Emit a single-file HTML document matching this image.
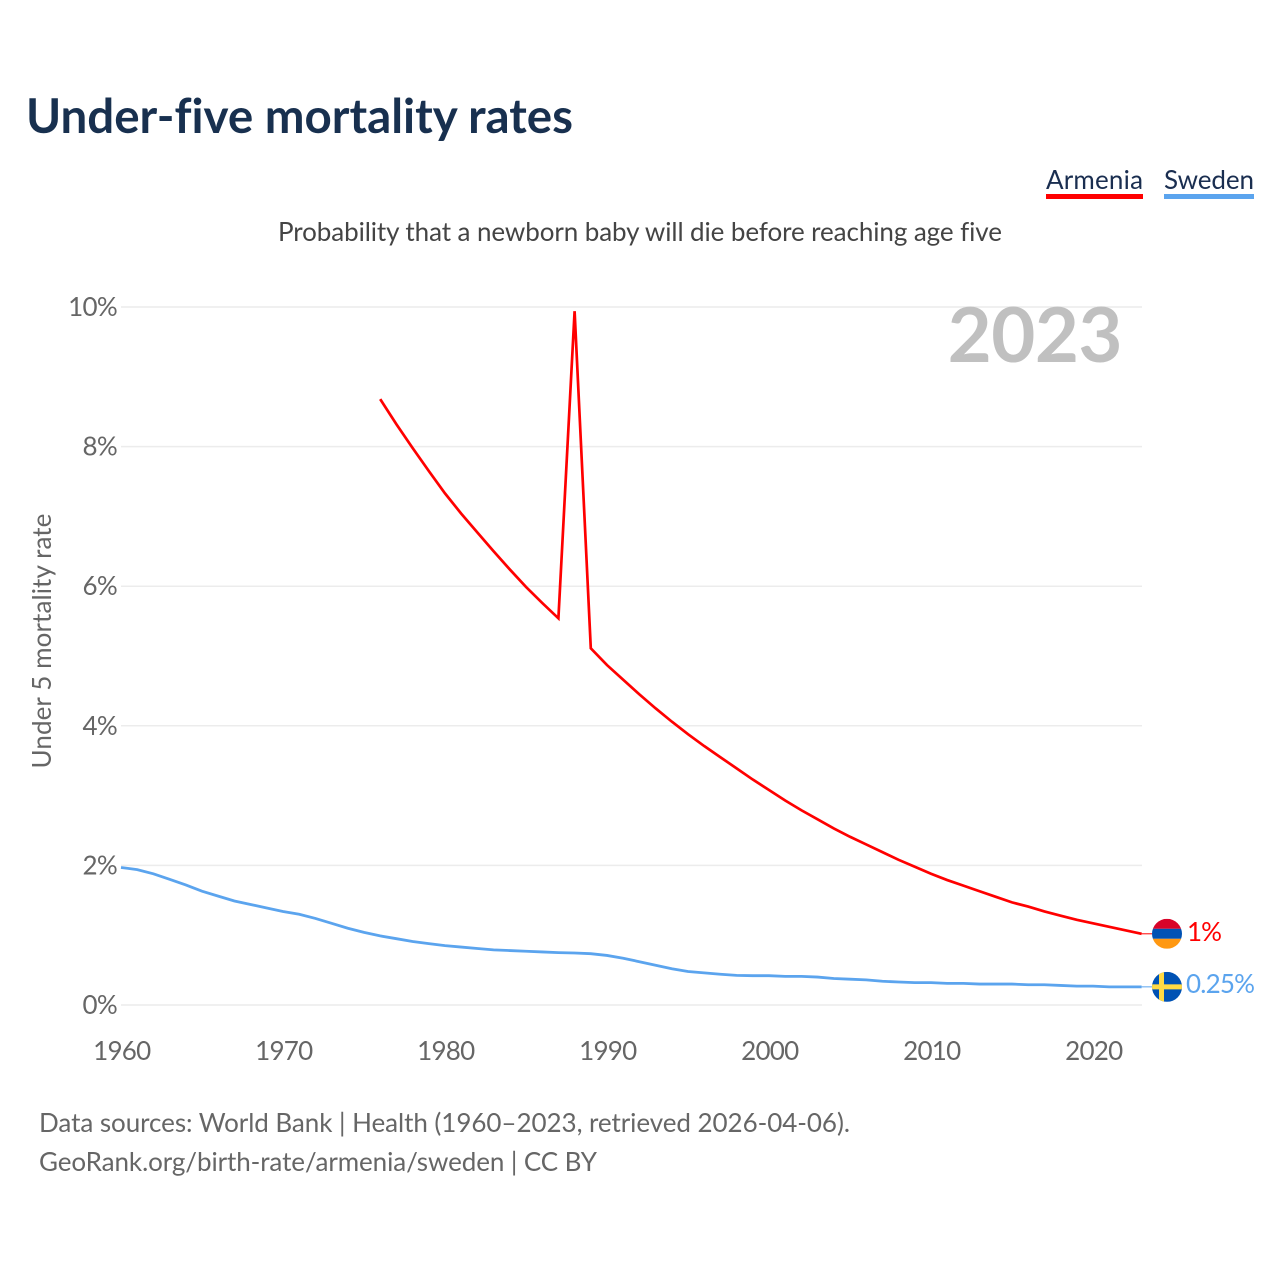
<!DOCTYPE html>
<html lang="en">
<head>
<meta charset="utf-8">
<title>Under-five mortality rates</title>
<style>
html,body{margin:0;padding:0;background:#fff;}
svg{display:block;}
text{font-family:"Lato","Carlito","Liberation Sans",sans-serif;font-variant-ligatures:none;}
</style>
</head>
<body>
<svg id="chart" xmlns="http://www.w3.org/2000/svg" width="1280" height="1280" viewBox="0 0 1280 1280">
  <defs>
    <clipPath id="flag-clip-am"><circle id="am-clip-circle" cx="1167" cy="934" r="15"/></clipPath>
    <clipPath id="flag-clip-se"><circle id="se-clip-circle" cx="1167" cy="987" r="15"/></clipPath>
  </defs>
  <rect width="1280" height="1280" fill="#fff"/>
  <text x="26" y="133" font-size="47.5" font-weight="700" fill="#18304f" textLength="547">Under-five mortality rates</text>
  <g>
    <text x="1046" y="189" font-size="26" fill="#1a2e50" textLength="97">Armenia</text>
    <rect x="1046" y="194" width="97" height="5" fill="#ff0000"/>
  </g>
  <g>
    <text x="1164" y="189" font-size="26" fill="#1a2e50" textLength="90">Sweden</text>
    <rect x="1164" y="194" width="90" height="5" fill="#5ba4ee"/>
  </g>
  <text x="278" y="241" font-size="26" fill="#444" textLength="724">Probability that a newborn baby will die before reaching age five</text>
  <g id="grid"></g>
  <g id="yticks"></g>
  <g id="xticks"></g>
  <text transform="translate(51,641) rotate(-90)" font-size="26" fill="#666" text-anchor="middle" letter-spacing="0.1">Under 5 mortality rate</text>
  <text x="1122" y="362" font-size="76" font-weight="700" fill="#c0c0c0" text-anchor="end" letter-spacing="-0.5">2023</text>
  <g id="series"></g>
  <g id="flags"></g>
  <text x="39" y="1132" font-size="26" fill="#666" textLength="811">Data sources: World Bank | Health (1960–2023, retrieved 2026-04-06).</text>
  <text x="39" y="1171" font-size="26" fill="#666" textLength="558">GeoRank.org/birth-rate/armenia/sweden | CC BY</text>
</svg>
<script>
const yTickValues = [0, 2, 4, 6, 8, 10];
const yTickLabels = ["0%", "2%", "4%", "6%", "8%", "10%"];
const xTickValues = [1960, 1970, 1980, 1990, 2000, 2010, 2020];
const armeniaYears = [1976,1977,1978,1979,1980,1981,1982,1983,1984,1985,1986,1987,1988,1989,1990,1991,1992,1993,1994,1995,1996,1997,1998,1999,2000,2001,2002,2003,2004,2005,2006,2007,2008,2009,2010,2011,2012,2013,2014,2015,2016,2017,2018,2019,2020,2021,2022,2023];
const armeniaValues = [8.68,8.32,7.98,7.65,7.33,7.04,6.77,6.50,6.24,5.99,5.76,5.54,9.94,5.11,4.87,4.66,4.45,4.25,4.06,3.88,3.71,3.55,3.39,3.23,3.08,2.93,2.79,2.66,2.53,2.41,2.30,2.19,2.08,1.98,1.88,1.79,1.71,1.63,1.55,1.47,1.41,1.34,1.28,1.22,1.17,1.12,1.07,1.02];
const swedenYears = [1960,1961,1962,1963,1964,1965,1966,1967,1968,1969,1970,1971,1972,1973,1974,1975,1976,1977,1978,1979,1980,1981,1982,1983,1984,1985,1986,1987,1988,1989,1990,1991,1992,1993,1994,1995,1996,1997,1998,1999,2000,2001,2002,2003,2004,2005,2006,2007,2008,2009,2010,2011,2012,2013,2014,2015,2016,2017,2018,2019,2020,2021,2022,2023];
const swedenValues = [1.97,1.94,1.88,1.80,1.72,1.63,1.56,1.49,1.44,1.39,1.34,1.30,1.24,1.17,1.10,1.04,0.99,0.95,0.91,0.88,0.85,0.83,0.81,0.79,0.78,0.77,0.76,0.75,0.745,0.735,0.71,0.67,0.62,0.57,0.52,0.48,0.46,0.44,0.425,0.42,0.42,0.41,0.41,0.40,0.38,0.37,0.36,0.34,0.33,0.32,0.32,0.31,0.31,0.30,0.30,0.30,0.29,0.29,0.28,0.27,0.27,0.26,0.26,0.26];
const armeniaEndLabel = "1%";
const swedenEndLabel = "0.25%";

const NS = "http://www.w3.org/2000/svg";
const xScale = function (year) { return 121 + (year - 1960) * 16.2; };
const yScale = function (value) { return 1005 - value * 69.8; };
const make = function (tag, parent, attrs, txt) {
  const el = document.createElementNS(NS, tag);
  Object.keys(attrs).forEach(function (k) { el.setAttribute(k, attrs[k]); });
  if (txt !== undefined) el.textContent = txt;
  parent.appendChild(el);
  return el;
};
const gridG = document.getElementById("grid");
const yG = document.getElementById("yticks");
const xG = document.getElementById("xticks");
const seriesG = document.getElementById("series");
const flagsG = document.getElementById("flags");

yTickValues.forEach(function (v, i) {
  const line = make("line", gridG, {x1: 121, x2: 1142, y1: yScale(v), y2: yScale(v), stroke: "#ececec", "stroke-width": 1.5});
  
  
  const t = make("text", yG, {x: 117, y: yScale(v) + 9, "text-anchor": "end", "font-size": 26, fill: "#666", "letter-spacing": -0.7}, yTickLabels[i]);
  
  
});
xTickValues.forEach(function (v) {
  const t = make("text", xG, {x: xScale(v) + 0.8, y: 1060, "text-anchor": "middle", "font-size": 26, fill: "#666", "letter-spacing": -0.75}, String(v));
  
  
});
const toPath = function (years, values) {
  return years.map(function (yr, i) {
    return (i ? "L" : "M") + xScale(yr).toFixed(2) + " " + yScale(values[i]).toFixed(2);
  }).join(" ");
};
const swedenLine = make("path", seriesG, {d: toPath(swedenYears, swedenValues), fill: "none", stroke: "#5ba4ee", "stroke-width": 2.8, "stroke-linejoin": "miter"});


const armeniaLine = make("path", seriesG, {d: toPath(armeniaYears, armeniaValues), fill: "none", stroke: "#ff0000", "stroke-width": 2.7, "stroke-linejoin": "miter"});



const amY = yScale(armeniaValues[armeniaValues.length - 1]);
const seY = yScale(swedenValues[swedenValues.length - 1]);
const endX = xScale(2023);
const amConn = make("line", flagsG, {x1: endX, x2: 1152, y1: amY, y2: amY, stroke: "#ff0000", "stroke-width": 1});


const seConn = make("line", flagsG, {x1: endX, x2: 1152, y1: seY, y2: seY, stroke: "#5ba4ee", "stroke-width": 1});



document.getElementById("am-clip-circle").setAttribute("cy", amY);
document.getElementById("se-clip-circle").setAttribute("cy", seY);
const amFlag = make("g", flagsG, {"clip-path": "url(#flag-clip-am)"});


make("rect", amFlag, {x: 1152, y: amY - 15, width: 30, height: 10, fill: "#d90429"});
make("rect", amFlag, {x: 1152, y: amY - 5, width: 30, height: 10, fill: "#0052b4"});
make("rect", amFlag, {x: 1152, y: amY + 5, width: 30, height: 10, fill: "#ff9811"});
const seFlag = make("g", flagsG, {"clip-path": "url(#flag-clip-se)"});


make("rect", seFlag, {x: 1152, y: seY - 15, width: 30, height: 30, fill: "#0052b4"});
make("rect", seFlag, {x: 1159, y: seY - 15, width: 5, height: 30, fill: "#ffda44"});
make("rect", seFlag, {x: 1152, y: seY - 2.5, width: 30, height: 5, fill: "#ffda44"});

const amLabel = make("text", flagsG, {x: 1187, y: amY + 7, "font-size": 26, fill: "#ff0000", "letter-spacing": -1}, armeniaEndLabel);


const seLabel = make("text", flagsG, {x: 1186, y: seY + 6, "font-size": 26, fill: "#5ba4ee", "letter-spacing": -0.8}, swedenEndLabel);


</script>
</body>
</html>
